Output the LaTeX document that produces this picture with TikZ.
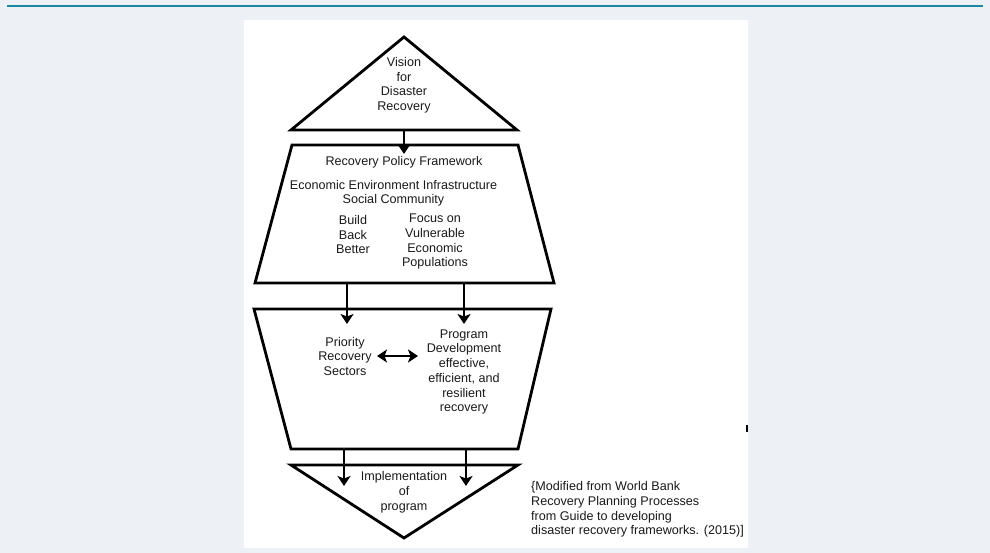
\documentclass[tikz,border=0pt]{standalone}
\usepackage{fontspec}
\setmainfont{Liberation Sans}
\usetikzlibrary{arrows.meta}
\definecolor{bgc}{HTML}{EDF1F5}
\definecolor{tealline}{HTML}{1B8A9E}
\definecolor{txtc}{HTML}{1A1A1A}
\begin{document}
\begin{tikzpicture}[x=1pt,y=-1pt,
  shapebox/.style={draw=black, line width=2.8pt, line join=miter, fill=white},
  txt/.style={font=\fontsize{12.6}{14.7}\selectfont, align=center, inner sep=0pt, text=txtc},
  tipstyle/.style={},
  arr/.style={line width=2.8pt, -{Stealth[length=10pt,width=13pt,inset=2.5pt]}},
  darr/.style={line width=2.8pt, {Stealth[length=10pt,width=13pt,inset=2.5pt]}-{Stealth[length=10pt,width=13pt,inset=2.5pt]}}]
\useasboundingbox (0,0) rectangle (990,553);
\fill[bgc] (0,0) rectangle (990,553);
\fill[white] (244,20) rectangle (748,548);
\draw[tealline, line width=2pt] (7,6) -- (983,6);
% shapes
\draw[shapebox] (404,37) -- (517,130) -- (291,130) -- cycle;
\draw[shapebox] (292,145) -- (518,145) -- (554,283) -- (255,283) -- cycle;
\draw[shapebox] (254,309) -- (551,309) -- (518,449) -- (291,449) -- cycle;
\draw[shapebox] (291,465) -- (518,465) -- (404,538) -- cycle;
\draw[line width=1.5pt] (747,425) -- (747,432);
% texts
\node[txt] (vision) at (404,85.3) {Vision\\for\\Disaster\\Recovery};
\node[txt] (rpf) at (404,162.5) {Recovery Policy Framework};
\node[txt] (econ) at (393.5,193.3) {Economic Environment Infrastructure\\Social Community};
\node[txt] (bbb) at (353,234.7) {Build\\Back\\Better};
\node[txt] (focus) at (435,241.7) {Focus on\\Vulnerable\\Economic\\Populations};
\node[txt] (prio) at (345,356.3) {Priority\\Recovery\\Sectors};
\node[txt] (prog) at (464,372) {Program\\Development\\effective,\\efficient, and\\resilient\\recovery};
\node[txt] (impl) at (404,492.3) {Implementation\\of\\program};
\node[txt, align=left, anchor=west] (cite) at (531,509.5) {\{Modified from World Bank\\Recovery Planning Processes\\from Guide to developing\\disaster recovery frameworks. (2015)]};
% connector coordinates
\coordinate (c1s) at (404,130);
\coordinate (c1e) at (404,154);
\coordinate (c2s) at (347,283);
\coordinate (c2e) at (347,324);
\coordinate (c3s) at (464,283);
\coordinate (c3e) at (464,324);
\coordinate (c4s) at (344,449);
\coordinate (c4e) at (344,486);
\coordinate (c5s) at (466,449);
\coordinate (c5e) at (466,486);
\coordinate (d1) at (377,356);
\coordinate (d2) at (418,356);
\draw[arr] (c1s) -- (c1e);
\draw[arr] (c2s) -- (c2e);
\draw[arr] (c3s) -- (c3e);
\draw[arr] (c4s) -- (c4e);
\draw[arr] (c5s) -- (c5e);
\draw[darr] (d1) -- (d2);
\end{tikzpicture}
\end{document}
